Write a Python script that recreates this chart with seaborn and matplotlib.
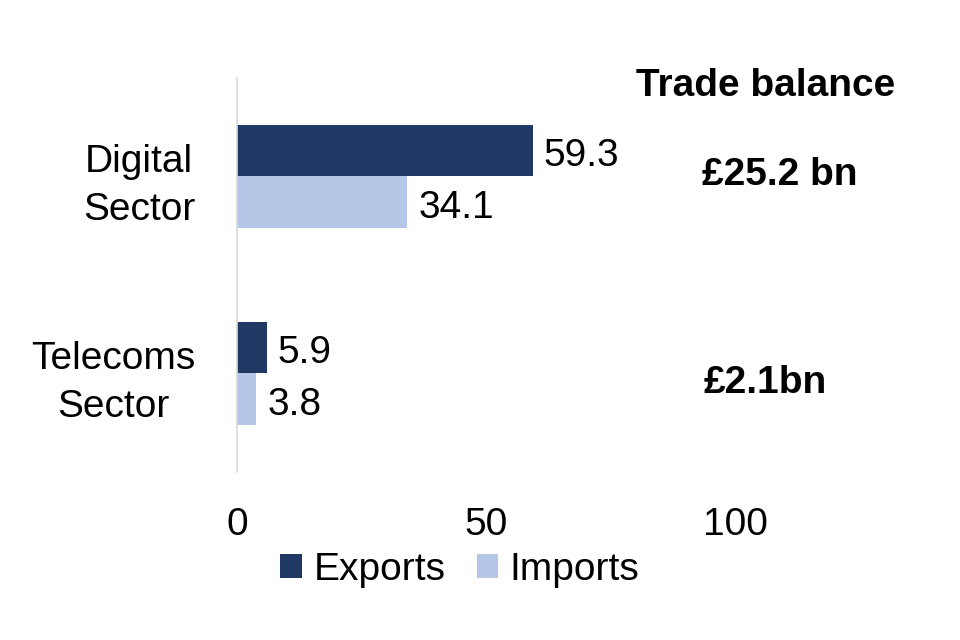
import pandas as pd
import seaborn as sns
import matplotlib.pyplot as plt

sectors = ['Digital\nSector', 'Telecoms\nSector']
exports = [59.3, 5.9]
imports = [34.1, 3.8]
balances = ['£25.2 bn', '£2.1bn']
colors = ['#203864', '#B4C7E7']

data = pd.DataFrame({
    'Sector': sectors * 2,
    'Value': exports + imports,
    'Flow': ['Exports'] * len(sectors) + ['Imports'] * len(sectors),
})

sns.set_style('white')
plt.rcParams['font.family'] = ['Liberation Sans', 'DejaVu Sans']
plt.rcParams['text.color'] = 'black'
plt.rcParams['xtick.color'] = 'black'
plt.rcParams['ytick.color'] = 'black'

fs = 28
fig = plt.figure(figsize=(9.6, 6.4), dpi=100)
ax = fig.add_axes([0.247, 0.2625, 0.519, 0.616])
sns.barplot(data=data, x='Value', y='Sector', hue='Flow', palette=colors,
            width=0.52, orient='h', ax=ax, saturation=1, linewidth=0, legend=True)

for c in ax.containers:
    for ann in ax.bar_label(c, fmt='%.1f', padding=8, fontsize=fs):
        ann.xyann = (8, -4)

ax.set_xlim(0, 100)
ax.set_ylim(1.5, -0.5)
ax.set_xticks([0, 50, 100])
ax.set_xlabel('')
ax.set_ylabel('')
ax.tick_params(axis='x', labelsize=fs, pad=25, length=0)
ax.tick_params(axis='y', labelsize=fs, pad=30, length=0)
for lab in ax.get_yticklabels():
    lab.set_multialignment('center')
    lab.set_linespacing(1.4)
for s in ['top', 'right', 'bottom']:
    ax.spines[s].set_visible(False)
ax.spines['left'].set_color('#D9D9D9')
ax.spines['left'].set_linewidth(1.2)

# trade balance column
ax.text(106, -0.46, 'Trade balance', ha='center', va='center', fontsize=fs, fontweight='bold')
ax.text(109, -0.005, balances[0], ha='center', va='center', fontsize=fs, fontweight='bold')
ax.text(106, 1.05, balances[1], ha='center', va='center', fontsize=fs, fontweight='bold')

handles, labels = ax.get_legend_handles_labels()
ax.legend_.remove()
fig.legend(handles, labels, loc='center', bbox_to_anchor=(0.479, 0.11), ncol=2,
           frameon=False, fontsize=fs, handlelength=0.55, handleheight=0.55,
           handletextpad=0.3, columnspacing=0.8)

plt.savefig('out.png', dpi=100)
